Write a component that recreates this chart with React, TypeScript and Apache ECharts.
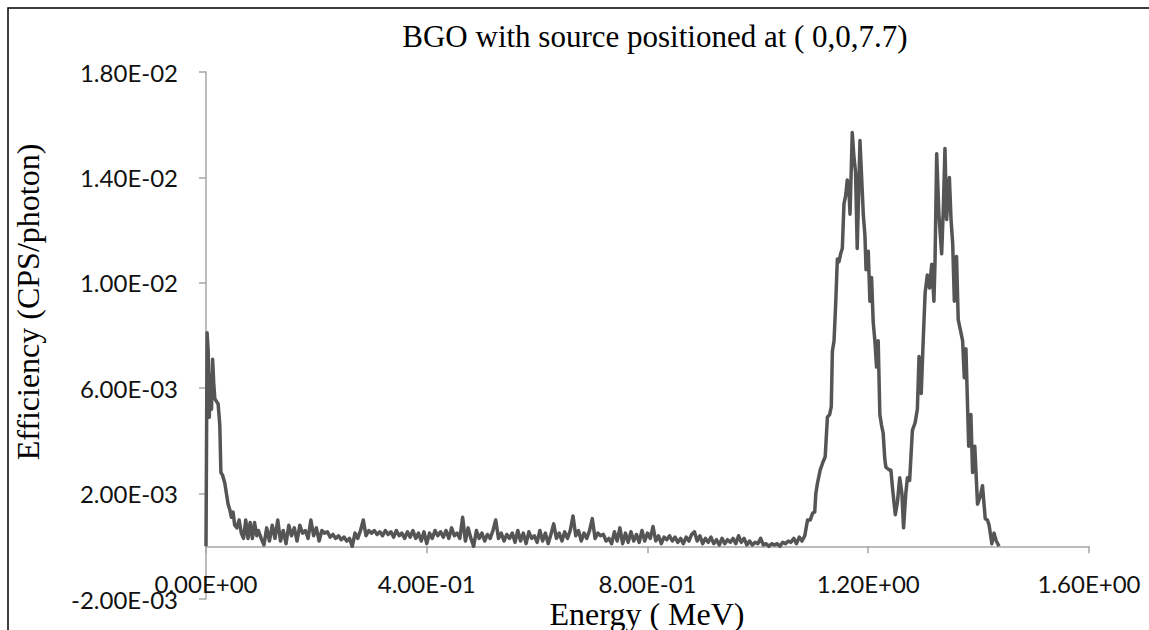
import React, { useEffect, useRef } from 'react';
import * as echarts from 'echarts';

// Energy (MeV) and efficiency (in units of 1e-3 CPS/photon)
const lowE = [0, 0.002, 0.004, 0.006, 0.008, 0.010, 0.012, 0.014, 0.016, 0.019, 0.022, 0.025, 0.027, 0.030, 0.034, 0.037, 0.040, 0.043, 0.046, 0.049, 0.052, 0.056, 0.060, 0.064, 0.068, 0.072, 0.076, 0.080, 0.084, 0.088, 0.092];
const lowEff = [0, 8.1, 7.4, 4.9, 6.5, 5.2, 7.1, 6.2, 5.6, 5.5, 5.4, 4.6, 2.8, 2.7, 2.4, 2.0, 1.6, 1.4, 1.1, 1.3, 0.8, 0.7, 1.0, 0.5, 0.3, 1.0, 0.3, 0.9, 0.3, 0.9, 0.4];

const contE = [
  0.095, 0.100, 0.105, 0.110, 0.115, 0.120, 0.125, 0.130, 0.135, 0.140,
  0.145, 0.150, 0.155, 0.160, 0.165, 0.170, 0.175, 0.180, 0.185, 0.190,
  0.195, 0.200, 0.205, 0.210, 0.215, 0.220, 0.225, 0.230, 0.235, 0.240,
  0.245, 0.250, 0.255, 0.260, 0.265, 0.270, 0.275, 0.280, 0.285, 0.290,
  0.295, 0.300, 0.305, 0.310, 0.315, 0.320, 0.325, 0.330, 0.335, 0.340,
  0.345, 0.350, 0.355, 0.360, 0.365, 0.370, 0.375, 0.380, 0.385, 0.390,
  0.395, 0.400, 0.405, 0.410, 0.415, 0.420, 0.425, 0.430, 0.435, 0.440,
  0.445, 0.450, 0.455, 0.460, 0.465, 0.470, 0.475, 0.480, 0.485, 0.490,
  0.495, 0.500, 0.505, 0.510, 0.515, 0.520, 0.525, 0.530, 0.535, 0.540,
  0.545, 0.550, 0.555, 0.560, 0.565, 0.570, 0.575, 0.580, 0.585, 0.590,
  0.595, 0.600, 0.605, 0.610, 0.615, 0.620, 0.625, 0.630, 0.635, 0.640,
  0.645, 0.650, 0.655, 0.660, 0.665, 0.670, 0.675, 0.680, 0.685, 0.690,
  0.695, 0.700, 0.705, 0.710, 0.715, 0.720, 0.725, 0.730, 0.735, 0.740,
  0.745, 0.750, 0.755, 0.760, 0.765, 0.770, 0.775, 0.780, 0.785, 0.790,
  0.795, 0.800, 0.805, 0.810, 0.815, 0.820, 0.825, 0.830, 0.835, 0.840,
  0.845, 0.850, 0.855, 0.860, 0.865, 0.870, 0.875, 0.880, 0.885, 0.890,
  0.895, 0.900, 0.905, 0.910, 0.915, 0.920, 0.925, 0.930, 0.935, 0.940,
  0.945, 0.950, 0.955, 0.960, 0.965, 0.970, 0.975, 0.980, 0.985, 0.990,
  0.995, 1.000, 1.005, 1.010, 1.015, 1.020, 1.025, 1.030, 1.035, 1.040,
  1.045, 1.050, 1.055, 1.060, 1.065, 1.070, 1.075, 1.080, 1.085
];
const contEff = [
  0.6, 0.3, 0.05, 0.7, 0.2, 0.8, 0.3, 1.0, 0.2, 0.6,
  0.1, 0.8, 0.4, 0.7, 0.2, 0.8, 0.5, 0.6, 0.3, 1.0,
  0.4, 0.7, 0.2, 0.6, 0.5, 0.55, 0.35, 0.45, 0.3, 0.4,
  0.25, 0.35, 0.2, 0.3, 0, 0.5, 0.3, 0.6, 1.0, 0.4,
  0.6, 0.5, 0.6, 0.45, 0.55, 0.4, 0.6, 0.45, 0.55, 0.35,
  0.6, 0.4, 0.5, 0.3, 0.55, 0.35, 0.6, 0.3, 0.5, 0.2,
  0.55, 0.1, 0.5, 0.3, 0.6, 0.4, 0.55, 0.35, 0.6, 0.3,
  0.7, 0.4, 0.5, 0.3, 1.1, 0.2, 0.7, 0.3, 0, 0.6,
  0.3, 0.5, 0.2, 0.45, 0.3, 0.6, 1.0, 0.3, 0.5, 0.2,
  0.45, 0.3, 0.5, 0.15, 0.6, 0.2, 0.5, 0.1, 0.55, 0.3,
  0.4, 0.15, 0.6, 0.2, 0.5, 0.1, 0.45, 0.85, 0.3, 0.5,
  0.2, 0.55, 0.3, 0.6, 1.15, 0.4, 0.6, 0.2, 0.5, 0.3,
  0.6, 1.05, 0.3, 0.5, 0.4, 0.45, 0.2, 0.3, 0.1, 0.55,
  0.2, 0.7, 0.1, 0.5, 0.15, 0.55, 0.2, 0.45, 0.15, 0.6,
  0.2, 0.5, 0.3, 0.75, 0.2, 0.4, 0.1, 0.35, 0.25, 0.4,
  0.2, 0.35, 0.15, 0.3, 0.1, 0.35, 0.2, 0.45, 0.55, 0.2,
  0.4, 0.1, 0.3, 0.15, 0.35, 0.1, 0.25, 0.05, 0.3, 0.1,
  0.25, 0.15, 0.3, 0.1, 0.4, 0.15, 0.3, 0.05, 0.2, 0.05,
  0.15, 0.1, 0.3, 0.05, 0.1, 0, 0.1, 0.05, 0.1, 0,
  0.15, 0.1, 0.2, 0.15, 0.3, 0.1, 0.35, 0.2, 0.4
];

const peaksE = [
  1.090, 1.095, 1.099, 1.103, 1.105, 1.108, 1.113, 1.118, 1.122, 1.126,
  1.130, 1.133, 1.135, 1.138, 1.141, 1.144, 1.147, 1.150, 1.153, 1.156,
  1.159, 1.162, 1.165, 1.167, 1.171, 1.174, 1.177, 1.180, 1.185, 1.188,
  1.191, 1.194, 1.196, 1.200, 1.203, 1.206, 1.209, 1.212, 1.215, 1.218,
  1.221, 1.224, 1.227, 1.230, 1.232, 1.238, 1.241, 1.244, 1.249, 1.253,
  1.257, 1.261, 1.264, 1.268, 1.271, 1.275, 1.280, 1.285, 1.289, 1.292,
  1.296, 1.299, 1.303, 1.307, 1.311, 1.315, 1.319, 1.321, 1.324, 1.328,
  1.333, 1.336, 1.339, 1.342, 1.345, 1.347, 1.350, 1.353, 1.356, 1.360,
  1.363, 1.367, 1.371, 1.374, 1.377, 1.382, 1.386, 1.389, 1.393, 1.398,
  1.403, 1.407, 1.412, 1.416, 1.419, 1.424, 1.428, 1.432, 1.437
];
const peaksEff = [
  1.0, 1.0, 1.25, 1.3, 2.0, 2.4, 2.9, 3.2, 3.4, 4.9,
  5.0, 5.3, 7.4, 7.8, 9.2, 10.9, 10.8, 11.1, 11.3, 13.0,
  13.3, 13.9, 13.5, 12.6, 15.7, 14.8, 14.2, 11.3, 15.4, 14.0,
  12.6, 11.8, 10.5, 11.2, 9.3, 10.2, 8.5, 7.8, 6.8, 7.8,
  5.0, 4.6, 4.3, 3.3, 3.0, 2.9, 2.9, 2.2, 1.2, 1.7,
  2.6, 2.0, 0.7, 2.0, 2.6, 2.5, 4.4, 4.7, 5.2, 7.2,
  5.8, 7.5, 9.6, 10.3, 9.8, 10.7, 9.3, 10.8, 14.9, 12.6,
  11.1, 12.8, 15.1, 12.4, 13.5, 14.0, 12.4, 11.5, 9.3, 11.0,
  8.6, 8.2, 7.8, 6.4, 7.5, 3.8, 5.0, 2.8, 3.8, 1.6,
  1.9, 2.3, 1.05, 1.0, 0.8, 0.1, 0.5, 0.2, 0.0
];

const yTickValues = [-0.002, 0.002, 0.006, 0.010, 0.014, 0.018];
const xTickValues = [0, 0.4, 0.8, 1.2, 1.6];

const titleText = 'BGO with source positioned at ( 0,0,7.7)';
const xTitle = 'Energy ( MeV)';
const yTitle = 'Efficiency (CPS/photon)';

const fmt = (v: number) => {
  const [m, e] = v.toExponential(2).split('e');
  const sign = e[0] === '-' ? '-' : '+';
  const d = e.replace(/^[+-]/, '').padStart(2, '0');
  return `${m}E${sign}${d}`;
};

export default function App() {
  const ref = useRef<HTMLDivElement>(null);
  useEffect(() => {
    if (!ref.current) return;
    const chart = echarts.init(ref.current, undefined, { renderer: 'svg' });
    const allE = [...lowE, ...contE, ...peaksE];
    const allEff = [...lowEff, ...contEff, ...peaksEff];
    const data = allE.map((e, i) => [e, allEff[i] / 1000]);
    const axisColor = '#A6A6A6';
    const labelFont = { fontFamily: 'Lato', fontSize: 24, color: '#111' };
    const serif = '"Liberation Serif", serif';
    chart.setOption({
      animation: false,
      backgroundColor: '#ffffff',
      title: {
        text: titleText,
        left: 650,
        top: 16,
        textAlign: 'center',
        textStyle: { fontFamily: serif, fontSize: 31, fontWeight: 'normal', color: '#000' },
      },
      grid: { left: 206, right: 60, top: 72, bottom: 31, containLabel: false, outerBoundsMode: 'none' },
      xAxis: [
        {
          type: 'value',
          min: 0,
          max: 1.6,
          interval: 0.4,
          position: 'bottom',
          axisLine: { show: true, onZero: true, lineStyle: { color: axisColor, width: 1.5 } },
          axisTick: { show: true, length: 7, inside: false, lineStyle: { color: axisColor, width: 1.5 }, customValues: xTickValues },
          splitLine: { show: false },
          axisLabel: { show: false },
        },
        {
          type: 'value',
          min: 0,
          max: 1.6,
          interval: 0.4,
          position: 'bottom',
          axisLine: { show: false, onZero: false },
          axisTick: { show: false },
          splitLine: { show: false },
          axisLabel: { ...labelFont, margin: -28, formatter: fmt, showMinLabel: true, showMaxLabel: true, customValues: xTickValues },
        },
      ],
      yAxis: {
        type: 'value',
        min: -0.002,
        max: 0.018,
        axisLine: { show: true, onZero: false, lineStyle: { color: axisColor, width: 1.5 } },
        axisTick: { show: true, length: 7, lineStyle: { color: axisColor, width: 1.5 }, customValues: yTickValues },
        splitLine: { show: false },
        axisLabel: { ...labelFont, margin: 28, formatter: fmt, customValues: yTickValues },
      },
      series: [
        {
          type: 'line',
          xAxisIndex: 0,
          data,
          symbol: 'none',
          showSymbol: false,
          smooth: false,
          lineStyle: { color: '#555555', width: 3.5, join: 'round' },
          itemStyle: { color: '#555555' },
        },
      ],
      graphic: [
        {
          type: 'rect',
          silent: true,
          z: 100,
          shape: { x: 8, y: 8, width: 1300, height: 800 },
          style: { fill: 'none', stroke: '#000', lineWidth: 1.5 },
        },
        {
          type: 'text',
          x: 28,
          y: 302,
          rotation: Math.PI / 2,
          style: {
            text: yTitle,
            font: '32px "Liberation Serif", serif',
            fill: '#000',
            textAlign: 'center',
            textVerticalAlign: 'middle',
            align: 'center',
            verticalAlign: 'middle',
          },
        },
        {
          type: 'text',
          x: 647,
          y: 614,
          style: {
            text: xTitle,
            font: '32px "Liberation Serif", serif',
            fill: '#000',
            textAlign: 'center',
            textVerticalAlign: 'middle',
            align: 'center',
            verticalAlign: 'middle',
          },
        },
      ],
    });
    return () => chart.dispose();
  }, []);
  return <div ref={ref} style={{ position: 'fixed', left: 0, top: 0, width: 1149, height: 630 }} />;
}
